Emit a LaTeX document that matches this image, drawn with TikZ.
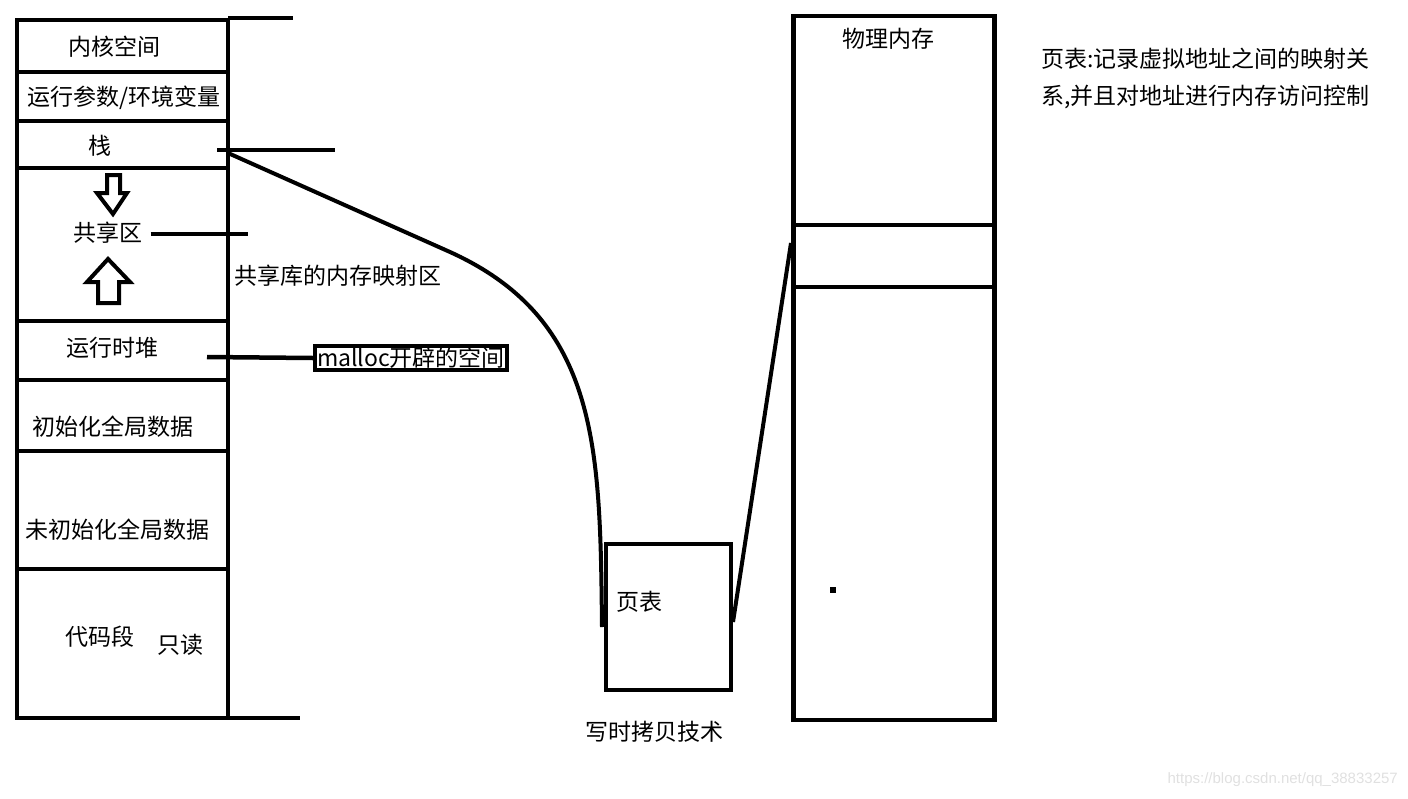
\documentclass[tikz,border=0pt]{standalone}
\usepackage{fontspec}
\setmainfont{Noto Sans CJK SC}
\newfontfamily\markfont{Liberation Sans}
\tikzset{
	wall/.style={line width=4.5pt},
	lbl/.style={font=\fontsize{23}{27}\selectfont, inner sep=0pt},
	hollow/.style={line width=4pt, line join=miter},
}
\begin{document}
\begin{tikzpicture}[x=1pt,y=-1pt]
	\useasboundingbox (0,0) rectangle (1408,798);
	% virtual address space
	\draw[wall] (17,20) -- (17,718) -- (228,718);
	\draw[wall] (228,18) -- (228,720);
	\foreach \y in {20,72,121,168,321,380,451,569}
		\draw[wall] (15,\y) -- (230,\y);
	\draw[wall] (228,18) -- (293,18);
	\draw[wall] (228,718) -- (300,718);
	\node[lbl] (kernel) at (114,47) {内核空间};
	\node[lbl] (env) at (124,98) {运行参数/环境变量};
	\node[lbl] (stack) at (100,146) {栈};
	\node[lbl] (shared) at (108,233) {共享区};
	\node[lbl] (mmap) at (338,276) {共享库的内存映射区};
	\node[lbl] (heap) at (112,348) {运行时堆};
	\node[lbl] (data) at (113,427) {初始化全局数据};
	\node[lbl] (bss) at (117,530) {未初始化全局数据};
	\node[lbl] (text) at (100,637) {代码段};
	\node[lbl] (ro) at (180,645) {只读};
	% growth arrows
	\draw[hollow] (107,175) -- (120,175) -- (120,193) -- (127,193) -- (113,214) -- (97,193) -- (107,193) -- cycle;
	\draw[hollow] (98,303) -- (119,303) -- (119,282) -- (130,282) -- (108,259) -- (87,282) -- (98,282) -- cycle;
	% leader lines
	\coordinate (stack-r) at (217,150);
	\coordinate (stack-e) at (335,150);
	\coordinate (shared-e) at (248,234);
	\coordinate (heap-r) at (207,357);
	\node[lbl,draw,line width=4pt,minimum width=192pt,minimum height=24pt] (malloc) at (411,358) {malloc开辟的空间};
	\draw[wall] (stack-r) -- (stack-e);
	\draw[wall] (shared.east) ++(8,1) -- (shared-e);
	\draw[wall] (heap-r) -- (malloc.west);
	% page table
	\node[wall,draw,minimum width=125pt,minimum height=146pt] (pt) at (668.5,617) {};
	\node[lbl] (ptlbl) at (639,602) {页表};
	\node[lbl] (cow) at (654,732) {写时拷贝技术};
	% physical memory
	\node[wall,draw,minimum width=201pt,minimum height=704pt] (phys) at (894,368) {};
	\draw[wall] (793,225) -- (996,225);
	\draw[wall] (793,287) -- (996,287);
	\node[lbl] (physlbl) at (888,39) {物理内存};
	\fill (830,587) rectangle (836,593);
	% mapping
	\coordinate (stack-out) at (228,153);
	\coordinate (bend) at (450,252);
	\coordinate (pt-in) at (602,627);
	\coordinate (pt-out) at (733,622);
	\coordinate (band) at (791,243);
	\draw[line width=4pt] (stack-out) -- (bend) .. controls (600,320) and (600,450) .. (pt-in);
	\draw[line width=4pt] (pt-out) -- (band);
	% note
	\node[lbl,anchor=west] (note1) at (1041,59) {页表:记录虚拟地址之间的映射关};
	\node[lbl,anchor=west] (note2) at (1041,97) {系,并且对地址进行内存访问控制};
	\node[font=\markfont\fontsize{15}{18}\selectfont,text=black!12,anchor=east,inner sep=0pt] (mark) at (1398,780) {https://blog.csdn.net/qq\_38833257};
\end{tikzpicture}
\end{document}
